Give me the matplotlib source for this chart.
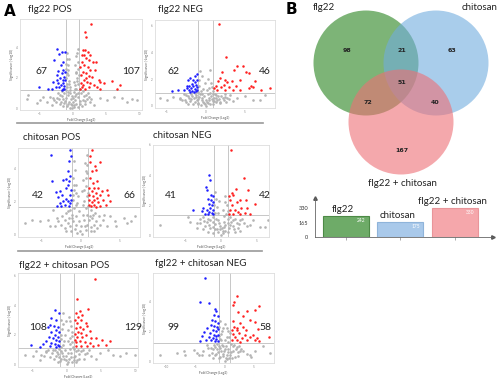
import matplotlib.pyplot as plt
import numpy as np
from matplotlib.patches import Circle

plt.rcParams['font.family'] = ['Lato', 'DejaVu Sans']

# ---------------- panel A: volcano plots ----------------
titles = ['flg22 POS', 'flg22 NEG', 'chitosan POS', 'chitosan NEG',
          'flg22 + chitosan POS', 'fgl22 + chitosan NEG']
n_down = [67, 62, 42, 41, 108, 99]
n_up = [107, 46, 66, 42, 129, 58]
p_cut = [1.2, 0.95, 1.66, 1.33, 1.11, 1.22]  # significance threshold (-log10)
fc_cut = 1.0  # |log2 fold change| threshold

# (log2 FC, -log10 p)
down_1 = [(-2.25, 3.85), (-1.6, 3.7), (-1.95, 3.58), (-1.1, 3.7), (-2.7, 3.15), (-1.45, 3.04),
          (-1.75, 2.83), (-2.1, 2.46), (-1.35, 2.5), (-1.6, 2.28), (-2.25, 2.17), (-1.25, 2.07),
          (-1.85, 1.96), (-1.45, 1.85), (-2.85, 1.74), (-2.1, 1.63), (-1.35, 1.63), (-1.7, 1.52),
          (-1.2, 1.46), (-2.45, 1.37), (-1.95, 1.37), (-1.45, 1.3), (-3.1, 1.3), (-4.95, 1.41),
          (-3.6, 1.24), (-1.25, 1.24), (-1.6, 1.2), (-1.05, 1.85), (-1.05, 2.39), (-2.35, 1.85)]
up_1 = [(2.75, 5.5), (1.8, 4.96), (2.05, 4.67), (1.5, 3.8), (1.9, 3.8), (2.25, 3.7), (1.65, 3.5),
        (1.35, 3.48), (2.65, 3.48), (2.05, 3.26), (2.4, 3.15), (3.05, 3.04), (3.55, 3.04),
        (1.4, 3.04), (1.75, 2.83), (2.25, 2.72), (1.15, 2.72), (2.65, 2.5), (3.4, 2.5),
        (1.55, 2.39), (1.95, 2.28), (1.25, 2.17), (2.4, 2.1), (2.9, 2.07), (3.9, 1.85),
        (4.15, 1.74), (1.65, 1.85), (2.15, 1.74), (1.25, 1.63), (2.65, 1.63), (3.15, 1.52),
        (4.65, 1.63), (5.9, 1.8), (7.05, 1.52), (6.65, 1.24), (1.4, 1.37), (1.9, 1.3),
        (2.4, 1.37), (3.65, 1.37), (4.15, 1.24), (1.15, 1.24), (1.55, 1.5), (2.05, 2.0)]
ns_1 = [(-6.6, 0.87), (-6.85, 0.59), (-4.85, 0.54), (-4.35, 0.76), (-5.35, 0.33), (4.15, 0.65),
        (5.15, 0.54), (6.15, 0.76), (7.4, 0.65), (8.9, 0.59), (9.65, 0.54), (8.15, 0.43),
        (-3.85, 0.43), (-3.35, 0.76), (-2.85, 0.65),
        (-0.8, 3.6), (-0.5, 3.2), (0.6, 3.4), (0.9, 3.9), (-0.9, 2.9), (0.4, 2.8), (-0.7, 2.5),
        (0.8, 2.6), (-0.6, 2.2), (0.5, 2.3), (-0.9, 2.0), (0.7, 2.0), (-0.5, 1.8), (0.3, 1.7),
        (-0.8, 1.6), (0.9, 1.6), (-0.4, 1.4), (0.6, 1.3), (-0.95, 1.2), (0.2, 1.1), (-0.3, 1.0),
        (0.8, 1.0), (-0.7, 0.9), (0.4, 0.8), (-0.2, 0.6), (0.1, 0.4), (-0.1, 0.2), (0.0, 0.05),
        (-1.3, 1.0), (1.3, 1.0), (-1.6, 0.8), (1.7, 0.8), (-2.0, 0.6), (2.1, 0.6), (-1.1, 0.5),
        (1.1, 0.5), (-2.5, 0.4), (2.6, 0.4), (-1.8, 0.3), (1.9, 0.3), (-0.6, 0.3), (0.6, 0.3),
        (-1.4, 0.15), (1.4, 0.15), (-3.0, 0.2), (3.2, 0.25), (-2.2, 1.0), (2.3, 1.0),
        (1.6, 1.15), (-1.5, 1.15), (-0.3, 0.05), (0.3, 0.1),
        (-0.85, 3.2), (-0.65, 2.8), (-0.95, 2.6), (0.55, 2.4), (0.85, 3.0), (0.65, 3.6),
        (-0.75, 2.3), (0.95, 2.2), (-0.55, 1.6), (0.45, 1.5), (-0.85, 1.4), (0.75, 1.8),
        (-0.35, 1.2), (0.35, 1.3), (-1.2, 1.3), (1.2, 1.25), (-0.6, 1.05), (0.6, 0.95),
        (-0.1, 0.8), (0.15, 0.7), (-0.45, 0.45), (0.45, 0.55), (-0.9, 0.7), (0.9, 0.75),
        (-1.4, 0.6), (1.5, 0.55), (-1.7, 0.45), (1.8, 0.5), (-2.3, 0.7), (2.4, 0.75),
        (-1.2, 0.35), (1.2, 0.3), (-0.8, 0.15), (0.8, 0.1), (-2.7, 0.55), (2.8, 0.6),
        (-1.9, 0.9), (2.0, 0.9), (-0.25, 0.3), (0.25, 0.25)]

down_2 = [(-1.05, 2.4), (-1.4, 2.2), (-1.95, 2.08), (-1.65, 1.95), (-1.1, 1.95), (-2.2, 1.9),
          (-1.35, 1.75), (-1.75, 1.65), (-1.2, 1.58), (-2.05, 1.5), (-1.55, 1.45), (-1.1, 1.4),
          (-2.4, 1.33), (-1.9, 1.3), (-1.4, 1.25), (-1.05, 1.2), (-2.7, 1.15), (-2.15, 1.15),
          (-1.7, 1.1), (-1.25, 1.1), (-3.45, 1.2), (-4.25, 1.08), (-1.45, 1.0), (-1.95, 1.0),
          (-2.4, 1.5)]
up_2 = [(1.7, 6.15), (2.6, 3.7), (4.05, 2.95), (4.75, 2.95), (3.6, 2.7), (5.2, 2.5), (5.5, 2.45),
        (4.4, 1.95), (2.15, 2.5), (1.85, 2.08), (2.5, 1.95), (1.55, 1.83), (2.8, 1.75),
        (3.35, 1.83), (2.3, 1.58), (1.35, 1.45), (1.95, 1.4), (3.05, 1.4), (3.9, 1.5),
        (6.3, 1.83), (5.75, 1.5), (6.1, 1.4), (5.5, 1.33), (7.05, 1.2), (8.25, 1.33),
        (1.45, 1.2), (2.5, 1.15), (3.45, 1.15), (4.4, 1.2), (1.1, 1.33)]
ns_2 = [(-5.8, 0.58), (-4.95, 0.45), (-4.1, 0.65), (-3.25, 0.5), (4.0, 0.58), (5.05, 0.7),
        (6.1, 0.45), (7.6, 0.83), (6.95, 0.45), (2.5, 0.65), (-2.6, 0.45),
        (-0.7, 2.6), (0.55, 2.65), (-0.5, 2.2), (0.35, 2.0), (-0.05, 1.7), (-0.8, 1.45),
        (0.8, 1.4), (-0.35, 1.25), (0.15, 1.15),
        (-2.8, 0.9), (-2.3, 0.7), (-1.9, 0.85), (-1.5, 0.6), (-1.2, 0.8), (-0.9, 0.5),
        (-0.7, 0.9), (-0.5, 0.6), (-0.3, 0.3), (-0.1, 0.1), (0.1, 0.0), (0.3, 0.2), (0.5, 0.45),
        (0.7, 0.7), (0.9, 0.35), (1.1, 0.6), (1.4, 0.8), (1.7, 0.5), (2.0, 0.75), (2.3, 0.4),
        (2.7, 0.6), (3.1, 0.8), (-3.3, 0.6), (-2.0, 0.35), (-1.0, 0.2), (0.6, 0.1), (1.3, 0.25),
        (1.9, 0.2), (-0.6, 0.05), (-1.6, 0.15), (3.5, 0.35), (-2.5, 0.3), (0.0, 0.45),
        (-0.2, 0.75), (0.3, 0.85), (1.0, 0.9),
        (-0.85, 1.9), (0.65, 1.7), (-0.6, 1.1), (0.45, 1.3), (-0.95, 1.05), (0.9, 1.1),
        (-1.3, 0.95), (1.2, 0.9), (-1.7, 0.75), (1.6, 0.7), (-2.1, 0.55), (2.2, 0.6),
        (-2.5, 0.8), (2.5, 0.85), (-0.4, 0.45), (0.4, 0.6), (-0.8, 0.65), (0.8, 0.5),
        (-1.1, 0.4), (1.1, 0.35), (-1.4, 0.3), (1.5, 0.4), (-0.2, 0.2), (0.2, 0.3),
        (-1.8, 0.5), (1.8, 0.3), (-3.0, 0.4), (3.0, 0.5), (-0.5, 0.85), (0.6, 0.95),
        (-1.2, 0.65), (1.3, 0.55), (-2.2, 0.15), (2.6, 0.25), (-0.9, 0.1), (0.9, 0.15)]

down_3 = [(-3.68, 4.76), (-1.34, 5.06), (-1.21, 4.74), (-1.47, 4.4), (-1.51, 3.8), (-1.34, 3.54),
          (-1.85, 3.34), (-1.43, 3.24), (-2.19, 3.26), (-3.6, 3.22), (-1.55, 3.0), (-3.13, 2.54),
          (-1.77, 2.8), (-1.21, 2.7), (-2.62, 2.6), (-2.28, 2.4), (-2.83, 2.24), (-1.34, 2.4),
          (-1.77, 2.14), (-1.55, 2.0), (-2.19, 2.0), (-1.26, 1.9), (-2.62, 1.9), (-1.98, 1.8),
          (-1.43, 1.74), (-2.96, 1.74), (-2.4, 1.7), (-1.13, 2.1)]
up_3 = [(1.43, 5.06), (1.21, 4.74), (1.21, 4.34), (1.85, 4.1), (2.49, 4.34), (2.0, 3.9),
        (1.43, 3.8), (1.21, 3.4), (2.06, 3.2), (1.55, 3.1), (1.13, 2.8), (1.72, 2.8), (2.28, 2.8),
        (3.34, 2.7), (2.7, 2.6), (1.43, 2.6), (2.0, 2.5), (1.13, 2.4), (2.49, 2.4), (1.64, 2.3),
        (3.55, 2.4), (2.15, 2.2), (1.13, 2.1), (1.77, 2.1), (2.91, 2.1), (1.43, 1.94),
        (2.28, 1.94), (3.77, 2.0), (1.13, 1.8), (1.77, 1.8), (2.49, 1.74), (3.26, 1.8),
        (1.3, 1.7), (1.98, 1.66)]
ns_3 = [(-7.1, 0.7), (-6.2, 0.9), (-5.2, 0.8), (-4.1, 0.9), (-3.5, 1.5), (3.8, 1.1), (4.4, 0.8),
        (5.5, 1.0), (6.5, 0.8), (7.0, 1.1), (5.9, 0.7), (-3.9, 0.5), (4.6, 0.5),
        (0.8, 4.8), (0.6, 4.3), (-0.7, 3.9), (0.9, 3.7), (-0.9, 3.4), (0.4, 3.3), (-0.5, 3.0),
        (0.7, 2.9), (-0.8, 2.7), (0.2, 2.6), (-0.3, 2.3), (0.8, 2.3), (-0.9, 2.1), (0.5, 2.0),
        (-0.6, 1.8), (1.0, 1.7), (-1.3, 1.5), (1.4, 1.5), (-1.8, 1.3), (1.9, 1.3), (-0.2, 1.4),
        (0.3, 1.2), (-2.3, 1.1), (2.4, 1.1), (-1.0, 1.0), (1.1, 0.9), (-2.8, 0.8), (2.9, 0.9),
        (-1.6, 0.7), (1.7, 0.6), (-0.5, 0.6), (0.6, 0.5), (-2.0, 0.4), (2.1, 0.4), (-0.1, 0.2),
        (0.2, 0.05), (-1.2, 0.25), (1.3, 0.2), (-3.2, 0.5), (3.4, 0.5), (-0.4, 0.1), (0.9, 1.2),
        (-0.85, 3.0), (0.75, 3.4), (-0.6, 2.5), (0.5, 2.7), (-0.95, 2.4), (0.95, 2.5),
        (-0.4, 1.9), (0.7, 1.6), (-0.8, 1.6), (0.3, 1.8), (-1.1, 1.2), (1.2, 1.1), (-1.5, 1.0),
        (1.5, 1.0), (-0.5, 1.1), (0.5, 0.9), (-2.0, 0.9), (2.0, 0.8), (-0.9, 0.8), (0.9, 0.6),
        (-1.3, 0.5), (1.3, 0.45), (-2.5, 0.6), (2.5, 0.6), (-1.8, 0.2), (1.8, 0.25),
        (-0.7, 0.35), (0.7, 0.3), (-0.2, 0.8), (0.1, 0.5), (-1.6, 1.4), (1.6, 1.2), (0.85, 4.2),
        (-0.75, 4.4), (0.7, 3.8), (-3.0, 1.0), (3.0, 1.2)]

down_4 = [(-1.65, 4.0), (-1.56, 3.67), (-2.16, 3.18), (-2.02, 3.0), (-1.42, 2.67), (-1.09, 2.6),
          (-1.79, 2.44), (-1.47, 2.33), (-1.19, 2.22), (-1.7, 2.11), (-1.33, 2.0), (-1.56, 1.84),
          (-1.19, 1.71), (-2.02, 1.71), (-2.49, 1.84), (-3.88, 1.71), (-2.72, 1.62),
          (-1.65, 1.56), (-1.33, 1.49), (-2.26, 1.44), (-1.79, 1.4), (-1.09, 1.44)]
up_4 = [(1.37, 5.67), (3.19, 3.84), (3.8, 3.04), (2.07, 3.11), (1.47, 2.78), (1.14, 2.6),
        (1.7, 2.67), (2.63, 2.38), (3.47, 2.38), (1.23, 2.33), (2.16, 2.22), (4.72, 2.11),
        (1.47, 2.0), (2.86, 1.84), (3.65, 1.84), (1.23, 1.71), (1.93, 1.67), (2.4, 1.56),
        (1.14, 1.44), (1.7, 1.4), (3.33, 1.49), (4.02, 1.4), (2.63, 1.44)]
ns_4 = [(-8.6, 0.67), (-4.6, 1.2), (-4.35, 0.9), (-3.4, 0.8), (4.5, 1.0), (5.4, 0.55),
        (6.1, 0.55), (6.6, 1.0), (4.0, 0.67),
        (-0.8, 2.9), (0.5, 2.6), (-0.3, 2.3), (0.8, 2.0), (-0.6, 1.9), (0.2, 1.7), (-0.9, 1.5),
        (0.7, 1.4), (-2.5, 1.2), (-1.8, 1.1), (-1.2, 0.9), (-0.7, 1.1), (-0.3, 0.8), (0.1, 0.5),
        (0.4, 0.9), (0.9, 1.1), (1.4, 0.9), (2.0, 1.1), (2.6, 1.0), (3.2, 0.8), (-2.9, 0.8),
        (-2.2, 0.6), (-1.5, 0.5), (-0.9, 0.4), (-0.4, 0.2), (0.0, 0.05), (0.6, 0.3), (1.1, 0.5),
        (1.7, 0.6), (2.3, 0.5), (3.7, 0.6), (-3.4, 0.5), (1.9, 0.25), (-1.9, 0.25), (0.3, 0.15),
        (-0.1, 0.4),
        (-0.75, 2.4), (0.6, 2.2), (-0.95, 2.0), (0.9, 1.6), (-0.5, 1.5), (0.4, 1.3),
        (-1.1, 1.25), (1.2, 1.2), (-1.5, 1.0), (1.6, 1.05), (-2.0, 0.9), (2.2, 0.8), (-0.4, 1.0),
        (0.6, 0.7), (-0.8, 0.75), (0.9, 0.8), (-1.2, 0.55), (1.3, 0.7), (-1.7, 0.7), (1.8, 0.4),
        (-2.6, 0.45), (2.7, 0.3), (-0.6, 0.4), (0.2, 0.3), (-1.1, 0.15), (1.0, 0.2),
        (-3.0, 1.1), (3.0, 1.1), (-0.2, 0.6), (0.4, 0.55), (2.5, 0.75), (-2.4, 0.95)]

down_5 = [(-1.78, 3.67), (-1.15, 3.44), (-2.27, 3.11), (-1.54, 3.0), (-2.51, 2.67), (-1.93, 2.6),
          (-1.29, 2.56), (-2.76, 2.51), (-1.63, 2.33), (-1.15, 2.22), (-2.27, 2.16), (-1.78, 2.0),
          (-1.29, 1.89), (-2.61, 1.84), (-2.02, 1.78), (-1.54, 1.67), (-1.15, 1.56), (-3.0, 1.56),
          (-2.27, 1.44), (-1.78, 1.4), (-1.29, 1.33), (-3.49, 1.4), (-5.2, 1.33), (-3.98, 1.18),
          (-2.51, 1.22), (-1.63, 1.18), (-1.15, 1.22)]
up_5 = [(4.17, 5.78), (1.49, 4.38), (3.1, 3.71), (1.88, 3.6), (1.29, 3.49), (2.27, 3.33),
        (1.63, 3.22), (1.15, 3.0), (2.1, 3.0), (2.73, 2.82), (1.49, 2.78), (3.0, 2.6), (1.88, 2.51),
        (1.29, 2.44), (2.37, 2.38), (3.34, 2.29), (1.63, 2.22), (2.1, 2.11), (1.15, 2.07),
        (2.73, 2.0), (1.49, 1.89), (2.27, 1.84), (3.59, 1.78), (4.32, 1.78), (5.2, 1.67),
        (1.15, 1.67), (1.88, 1.56), (2.61, 1.49), (3.34, 1.44), (5.78, 1.33), (6.27, 1.56),
        (3.83, 1.27), (4.56, 1.33), (1.39, 1.27), (2.1, 1.22), (2.95, 1.22), (1.29, 1.49)]
ns_5 = [(-6.17, 0.67), (-4.95, 0.56), (-3.73, 0.67), (-3.0, 0.89), (6.02, 1.0), (6.76, 0.67),
        (7.73, 0.56), (8.7, 0.78), (9.9, 0.67), (4.8, 0.78), (-4.46, 0.89),
        (-0.5, 3.5), (0.3, 3.2), (-0.1, 2.9), (0.6, 2.6), (-0.7, 2.4), (0.2, 2.3), (-0.3, 2.0),
        (0.7, 1.9), (-0.8, 1.7), (0.1, 1.6), (0.5, 1.4), (-0.5, 1.3), (-2.8, 1.0), (-2.2, 0.8),
        (-1.7, 1.0), (-1.3, 0.7), (-0.9, 0.9), (-0.5, 0.6), (-0.2, 0.3), (0.0, 0.05), (0.3, 0.4),
        (0.6, 0.8), (1.0, 0.5), (1.3, 0.9), (1.8, 0.7), (2.3, 1.0), (2.9, 0.8), (3.5, 0.6),
        (-3.3, 0.6), (-1.9, 0.4), (-1.0, 0.25), (0.8, 0.2), (1.5, 0.3), (2.5, 0.4), (-0.3, 0.95),
        (0.2, 0.75), (4.2, 0.4), (-4.0, 0.3),
        (-0.8, 3.0), (0.5, 2.9), (-0.6, 2.7), (0.8, 2.2), (-0.9, 2.0), (0.4, 1.8), (-0.4, 1.6),
        (0.8, 1.5), (-0.9, 1.2), (0.9, 1.2), (-1.2, 1.05), (1.1, 1.05), (-1.5, 0.85),
        (1.6, 0.95), (-2.0, 0.95), (2.0, 0.9), (-0.7, 0.8), (0.6, 0.5), (-1.1, 0.5), (1.2, 0.6),
        (-1.6, 0.55), (1.7, 0.4), (-2.4, 0.5), (2.6, 0.7), (-0.4, 0.4), (0.2, 0.2), (-0.8, 0.35),
        (1.0, 0.3), (-1.3, 0.2), (1.3, 0.15), (-3.0, 0.85), (3.2, 1.0), (-0.1, 0.6), (0.5, 1.05)]

down_6 = [(-3.29, 5.56), (-4.26, 3.96), (-2.71, 3.89), (-1.57, 3.49), (-1.4, 3.33), (-1.86, 3.11),
          (-1.17, 3.0), (-2.14, 2.78), (-1.57, 2.67), (-1.17, 2.56), (-2.31, 2.44), (-1.74, 2.38),
          (-1.29, 2.29), (-3.0, 2.22), (-1.97, 2.11), (-1.4, 2.0), (-3.57, 1.93), (-2.43, 1.89),
          (-1.74, 1.78), (-1.17, 1.78), (-3.86, 1.67), (-2.71, 1.62), (-1.97, 1.56), (-1.4, 1.49),
          (-3.11, 1.44), (-2.31, 1.4), (-1.57, 1.33), (-1.11, 1.33), (-4.14, 1.33), (-1.17, 2.16),
          (-1.51, 1.7)]
up_6 = [(2.14, 4.33), (1.69, 3.93), (1.46, 3.78), (6.03, 3.71), (5.29, 3.44), (2.43, 3.27),
        (3.86, 3.33), (3.29, 3.04), (4.43, 2.78), (1.57, 2.67), (2.71, 2.56), (5.29, 2.6),
        (1.74, 2.29), (2.26, 2.22), (1.29, 2.11), (3.29, 2.29), (2.14, 2.07), (3.71, 2.07),
        (5.86, 2.16), (1.46, 1.84), (2.57, 1.89), (3.54, 1.78), (4.97, 1.78), (1.86, 1.62),
        (3.0, 1.56), (4.43, 1.62), (5.57, 1.56), (1.29, 1.44), (2.26, 1.4), (3.86, 1.4),
        (5.29, 1.44), (6.03, 1.33), (7.74, 1.62), (2.71, 1.27)]
ns_6 = [(-11.0, 0.44), (-7.0, 0.67), (-6.71, 0.44), (-5.29, 0.78), (-4.71, 0.56), (-3.86, 0.44),
        (4.43, 0.44), (5.29, 0.67), (6.71, 1.0), (7.86, 0.56), (2.71, 0.67), (-8.14, 0.56),
        (-0.7, 2.7), (0.2, 2.5), (-0.2, 2.2), (0.6, 2.0), (-0.5, 1.8), (0.8, 1.6), (-0.8, 1.5),
        (0.1, 1.4), (-3.0, 1.1), (-2.3, 0.9), (-1.8, 1.1), (-1.3, 0.8), (-0.9, 1.0), (-0.5, 0.7),
        (-0.2, 0.35), (0.1, 0.05), (0.4, 0.4), (0.7, 0.8), (1.1, 0.6), (1.5, 1.0), (2.0, 0.8),
        (2.6, 1.0), (3.2, 0.7), (3.9, 0.5), (-3.6, 0.7), (-2.6, 0.45), (-1.6, 0.4), (-1.0, 0.2),
        (0.5, 0.15), (1.3, 0.25), (2.3, 0.35), (-0.4, 1.1), (0.3, 1.0), (4.6, 0.3), (-4.3, 0.4),
        (-0.1, 0.7),
        (-0.85, 2.3), (0.5, 2.2), (-0.4, 2.0), (0.9, 1.9), (-0.9, 1.7), (0.4, 1.6), (-0.6, 1.4),
        (0.7, 1.3), (-1.2, 1.15), (1.2, 1.15), (-1.6, 0.95), (1.7, 1.1), (-2.0, 0.8),
        (2.2, 0.95), (-0.7, 0.9), (0.6, 0.6), (-1.1, 0.6), (1.0, 0.45), (-1.4, 0.5), (1.5, 0.7),
        (-2.2, 0.55), (2.4, 0.6), (-0.3, 0.5), (0.3, 0.25), (-0.7, 0.3), (0.8, 0.2),
        (-1.9, 0.25), (1.9, 0.3), (-2.8, 0.9), (2.9, 0.85), (-0.2, 1.0), (0.2, 0.8)]

down = [down_1, down_2, down_3, down_4, down_5, down_6]
up = [up_1, up_2, up_3, up_4, up_5, up_6]
ns = [ns_1, ns_2, ns_3, ns_4, ns_5, ns_6]

# ---------------- panel B: Venn + bar chart ----------------
venn_sets = ['flg22', 'chitosan', 'flg22 + chitosan']
venn_counts = {'100': 98, '110': 21, '010': 63, '111': 51, '101': 72, '011': 40, '001': 167}
bar_totals = [242, 175, 330]
bar_ticks = [0, 165, 330]

# ---------------- layout (pixel boxes in a 500x378 figure) ----------------
W, H = 500, 378


def rect(x0, y0, x1, y1):
    return [x0 / W, 1 - y1 / H, (x1 - x0) / W, (y1 - y0) / H]


def fxy(x, y):
    return x / W, 1 - y / H


boxes = [(20, 19, 142, 110), (155, 20, 275, 108), (18, 148, 140, 237),
         (153, 145, 269, 237), (18, 273, 138, 367), (153, 273, 274, 363)]
xlims = [(-7.85, 10.4), (-6.45, 8.87), (-7.94, 7.6), (-9.56, 6.72), (-7.15, 10.4), (-12.26, 8.54)]
ylims = [(-0.1, 5.83), (-0.18, 6.45), (-0.14, 5.2), (-0.11, 6.0), (-0.16, 6.16), (-0.11, 5.89)]
title_pos = [(28, 10), (158, 10), (23, 137), (153, 135), (19, 265), (155, 263)]
down_pos = [(42, 71), (173, 71), (38, 196), (171, 196), (38, 328), (173, 328)]
up_pos = [(131, 71), (265, 71), (130, 196), (265, 196), (133, 328), (265, 328)]

fig = plt.figure(figsize=(5, 3.78), dpi=100)

fig.text(*fxy(4, 11), 'A', fontsize=11, fontweight='bold', va='center', ha='left',
         family=['DejaVu Sans'])
fig.text(*fxy(286, 9), 'B', fontsize=11, fontweight='bold', va='center', ha='left',
         family=['DejaVu Sans'])

for i in range(6):
    ax = fig.add_axes(rect(*boxes[i]))
    g = np.array(ns[i])
    b = np.array(down[i])
    r = np.array(up[i])
    ax.scatter(g[:, 0], g[:, 1], s=3.6, color='#b4b4b4', linewidths=0, zorder=2)
    ax.scatter(b[:, 0], b[:, 1], s=3.2, color='#1f1fff', linewidths=0, zorder=3)
    ax.scatter(r[:, 0], r[:, 1], s=3.2, color='#ff1f1f', linewidths=0, zorder=3)
    ax.axvline(-fc_cut, color='#b0b0b0', lw=0.5, zorder=1)
    ax.axvline(fc_cut, color='#b0b0b0', lw=0.5, zorder=1)
    ax.axhline(p_cut[i], color='#b0b0b0', lw=0.5, zorder=1)
    ax.set_xlim(*xlims[i])
    ax.set_ylim(*ylims[i])
    ax.xaxis.set_major_locator(plt.MultipleLocator(5))
    ax.yaxis.set_major_locator(plt.MultipleLocator(2))
    ax.tick_params(labelsize=2.2, length=0, pad=1.5, colors='#888888')
    for sp in ax.spines.values():
        sp.set_color('#dddddd')
        sp.set_linewidth(0.6)
    ax.set_xlabel('Fold Change (Log2)', fontsize=2.4, labelpad=1.5, color='#555555')
    ax.set_ylabel('Significance (-Log10)', fontsize=2.4, labelpad=1.5, color='#555555')

    fig.text(*fxy(*title_pos[i]), titles[i], fontsize=7, ha='left', va='center', color='#222222')
    fig.text(*fxy(*down_pos[i]), str(n_down[i]), fontsize=7.5, ha='center', va='center',
             color='#222222')
    fig.text(*fxy(*up_pos[i]), str(n_up[i]), fontsize=7.5, ha='center', va='center',
             color='#222222')

# separators between rows of panel A
sep = fig.add_axes([0, 0, 1, 1], facecolor='none')
sep.set_xlim(0, W)
sep.set_ylim(H, 0)
sep.axis('off')
sep.plot([17, 263], [123, 123], color='#999999', lw=1.2)
sep.plot([18, 262], [251, 251], color='#999999', lw=1.2)

# ---------------- Venn diagram ----------------
vax = fig.add_axes(rect(300, 0, 500, 190))
vax.set_xlim(-2, 2)
vax.set_ylim(-2.3, 1.5)
vax.set_aspect('equal')
vax.axis('off')
centres = [(-0.68, 0.24), (0.72, 0.24), (0.02, -0.94)]
colours = ['#26821d', '#71acde', '#ee6f75']
for c, col in zip(centres, colours):
    vax.add_patch(Circle(c, 1.05, facecolor=col, alpha=0.6, edgecolor='none'))
region_xy = {'100': (-1.06, 0.5), '110': (0.04, 0.5), '010': (1.04, 0.5), '111': (0.04, -0.14),
             '101': (-0.64, -0.56), '011': (0.7, -0.56), '001': (0.04, -1.52)}
for k, v in venn_counts.items():
    vax.text(*region_xy[k], str(v), fontsize=4.5, fontweight='bold', ha='center', va='center',
             color='#222222', family=['DejaVu Sans'])
fig.text(*fxy(313, 8), venn_sets[0], fontsize=7, ha='left', va='center', color='#222222')
fig.text(*fxy(497, 8), venn_sets[1], fontsize=7, ha='right', va='center', color='#222222')
fig.text(*fxy(402, 183), venn_sets[2], fontsize=7, ha='center', va='center', color='#222222')

# ---------------- bar chart ----------------
bax = fig.add_axes(rect(315, 198, 493, 237))
x = np.arange(len(bar_totals))
bar_face = ['#6eab68', '#a9c9ea', '#f5a7ab']
bar_edge = ['#4d8a46', '#8fb4da', '#e9959a']
bars = bax.bar(x, bar_totals, width=0.845, color=bar_face, edgecolor=bar_edge, linewidth=0.8)
bax.set_xlim(-0.57, 2.7)
bax.set_ylim(0, 444)
bax.set_yticks(bar_ticks)
bax.set_xticks(x)
bax.set_xticklabels([])
bax.tick_params(axis='y', labelsize=4, length=0, pad=5, colors='#333333')
bax.tick_params(axis='x', length=2, width=0.5, colors='#888888')
for s in ['top', 'right']:
    bax.spines[s].set_visible(False)
for s in ['left', 'bottom']:
    bax.spines[s].set_color('#666666')
    bax.spines[s].set_linewidth(0.6)
bax.plot(1, 0, '>', color='#555555', ms=2.5, transform=bax.transAxes, clip_on=False)
bax.plot(0, 1, '^', color='#555555', ms=2.5, transform=bax.transAxes, clip_on=False)
for xi, v, name in zip(x, bar_totals, venn_sets):
    bax.text(xi + 0.36, v - 25, str(v), fontsize=3.5, color='white', ha='right', va='top')
    bax.annotate(name, (xi - 0.05, v), xytext=(0, 1.5), textcoords='offset points',
                 fontsize=7, ha='center', va='bottom', color='#222222', annotation_clip=False)

fig.savefig('out.png', dpi=100)
